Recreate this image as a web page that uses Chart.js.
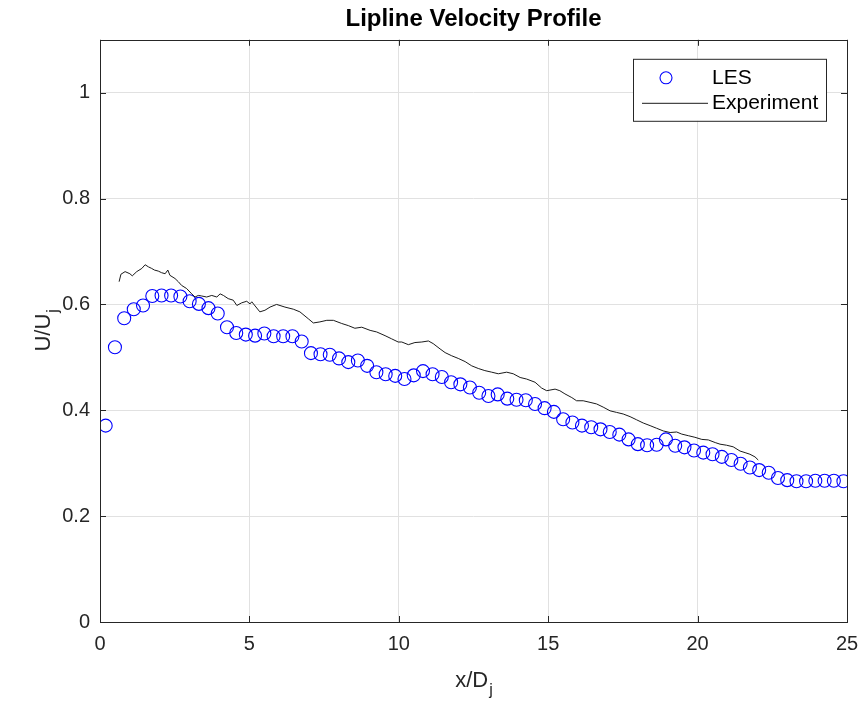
<!DOCTYPE html>
<html lang="en">
  <head>
    <meta charset="UTF-8" />
    <title>Lipline Velocity Profile</title>
    <script src="https://cdn.jsdelivr.net/npm/chart.js"></script>
    <style>
      html,
      body {
        margin: 0;
        background: #fff;
        font-family: "Liberation Sans", Arial, sans-serif;
      }
    </style>
  </head>
  <body>
    <canvas id="chart" width="861" height="708"></canvas>
  </body>
  <script>
    // LES samples (x/Dj, U/Uj)
    const lesX = [
      0.19, 0.5, 0.81, 1.13, 1.44, 1.75, 2.06, 2.38, 2.69, 3.0, 3.31, 3.63,
      3.94, 4.25, 4.56, 4.88, 5.19, 5.5, 5.81, 6.13, 6.44, 6.75, 7.06, 7.38,
      7.69, 8.0, 8.31, 8.63, 8.94, 9.25, 9.56, 9.88, 10.19, 10.5, 10.81,
      11.13, 11.44, 11.75, 12.06, 12.38, 12.69, 13.0, 13.31, 13.63, 13.94,
      14.25, 14.56, 14.88, 15.19, 15.5, 15.81, 16.13, 16.44, 16.75, 17.06,
      17.38, 17.69, 18.0, 18.31, 18.63, 18.94, 19.25, 19.56, 19.88, 20.19,
      20.5, 20.81, 21.13, 21.44, 21.75, 22.06, 22.38, 22.69, 23.0, 23.31,
      23.63, 23.94, 24.25, 24.56, 24.88,
    ];
    const lesU = [
      0.371, 0.519, 0.574, 0.591, 0.598, 0.616, 0.617, 0.617, 0.615, 0.606,
      0.601, 0.593, 0.583, 0.557, 0.546, 0.543, 0.541, 0.545, 0.54, 0.54,
      0.54, 0.53, 0.508, 0.506, 0.505, 0.498, 0.491, 0.494, 0.484, 0.472,
      0.468, 0.465, 0.459, 0.466, 0.474, 0.468, 0.463, 0.453, 0.449, 0.443,
      0.433, 0.427, 0.43, 0.422, 0.42, 0.419, 0.412, 0.404, 0.397, 0.383,
      0.377, 0.371, 0.368, 0.364, 0.359, 0.354, 0.345, 0.336, 0.334, 0.335,
      0.345, 0.333, 0.33, 0.324, 0.32, 0.317, 0.312, 0.306, 0.299, 0.292,
      0.287, 0.282, 0.272, 0.268, 0.266, 0.266, 0.267, 0.267, 0.267, 0.266,
    ];

    // Experiment trace
    const expX = [
      0.64, 0.7, 0.84, 1.0, 1.08, 1.23, 1.4, 1.51, 1.62, 1.73, 1.82, 1.95,
      2.06, 2.18, 2.27, 2.34, 2.51, 2.62, 2.73, 2.9, 3.07, 3.18, 3.29, 3.4,
      3.57, 3.74, 3.91, 4.02, 4.13, 4.29, 4.46, 4.58, 4.74, 4.91, 5.02, 5.08,
      5.35, 5.52, 5.69, 5.91, 6.19, 6.47, 6.69, 6.97, 7.14, 7.36, 7.59, 7.81,
      8.09, 8.31, 8.53, 8.76, 9.04, 9.26, 9.54, 9.76, 9.98, 10.1, 10.32,
      10.54, 10.77, 10.99, 11.15, 11.38, 11.55, 11.77, 11.99, 12.22, 12.44,
      12.66, 12.88, 13.11, 13.33, 13.61, 13.83, 14.06, 14.28, 14.56, 14.78,
      14.95, 15.23, 15.39, 15.56, 15.79, 15.95, 16.17, 16.4, 16.62, 16.84,
      17.07, 17.29, 17.51, 17.74, 17.96, 18.18, 18.41, 18.63, 18.85, 19.08,
      19.3, 19.47, 19.69, 19.91, 20.14, 20.36, 20.59, 20.75, 20.97, 21.19,
      21.42, 21.59, 21.75, 21.92, 22.03,
    ];
    const expU = [
      0.643, 0.657, 0.662, 0.658, 0.654, 0.662, 0.668, 0.675, 0.671, 0.668,
      0.665, 0.663, 0.66, 0.658, 0.665, 0.655, 0.649, 0.643, 0.636, 0.63,
      0.62, 0.614, 0.617, 0.616, 0.614, 0.617, 0.614, 0.62, 0.617, 0.611,
      0.608, 0.598, 0.603, 0.606, 0.601, 0.605, 0.586, 0.589, 0.595, 0.6,
      0.595, 0.591, 0.586, 0.573, 0.565, 0.567, 0.57, 0.57, 0.564, 0.56,
      0.555, 0.557, 0.551, 0.548, 0.541, 0.535, 0.529, 0.529, 0.524, 0.528,
      0.529, 0.531, 0.526, 0.516, 0.509, 0.503, 0.498, 0.492, 0.484, 0.479,
      0.475, 0.472, 0.469, 0.472, 0.469, 0.462, 0.459, 0.453, 0.442, 0.437,
      0.44, 0.437, 0.431, 0.424, 0.418, 0.418, 0.415, 0.412, 0.406, 0.399,
      0.396, 0.393, 0.388, 0.382, 0.376, 0.371, 0.366, 0.361, 0.358, 0.359,
      0.355, 0.352, 0.349, 0.345, 0.344, 0.339, 0.336, 0.334, 0.331, 0.323,
      0.32, 0.317, 0.312, 0.306,
    ];

    const xTicks = [0, 5, 10, 15, 20, 25];
    const yTicks = [0, 0.2, 0.4, 0.6, 0.8, 1];

    const axisColor = "#262626";
    const fontFamily = '"Liberation Sans", Arial, sans-serif';

    const toPoints = (xs, ys) => xs.map((x, i) => ({ x: x, y: ys[i] }));

    // box round the axes with inward ticks on all sides
    const framePlugin = {
      id: "frame",
      afterDatasetsDraw(chart) {
        const { ctx, chartArea: a, scales } = chart;
        ctx.save();
        ctx.strokeStyle = axisColor;
        ctx.lineWidth = 1;
        ctx.beginPath();
        xTicks.forEach((t) => {
          const px = Math.round(scales.x.getPixelForValue(t)) + 0.5;
          ctx.moveTo(px, a.bottom);
          ctx.lineTo(px, a.bottom - 6);
          ctx.moveTo(px, a.top);
          ctx.lineTo(px, a.top + 6);
        });
        yTicks.forEach((t) => {
          const py = Math.round(scales.y.getPixelForValue(t)) + 0.5;
          ctx.moveTo(a.left, py);
          ctx.lineTo(a.left + 6, py);
          ctx.moveTo(a.right, py);
          ctx.lineTo(a.right - 6, py);
        });
        ctx.stroke();
        ctx.strokeRect(
          Math.round(a.left) + 0.5,
          Math.round(a.top) + 0.5,
          Math.round(a.right - a.left),
          Math.round(a.bottom - a.top)
        );
        ctx.restore();
      },
      afterDraw(chart) {
        const { ctx, chartArea: a } = chart;
        ctx.save();
        ctx.fillStyle = axisColor;
        ctx.textBaseline = "alphabetic";

        // axis label with a subscript j
        const drawSub = (main, sub, size) => {
          const subSize = Math.round(size * 0.72);
          ctx.font = `${size}px ${fontFamily}`;
          const w1 = ctx.measureText(main).width;
          ctx.font = `${subSize}px ${fontFamily}`;
          const w2 = ctx.measureText(sub).width;
          const start = -(w1 + w2) / 2;
          ctx.font = `${size}px ${fontFamily}`;
          ctx.fillText(main, start, 0);
          ctx.font = `${subSize}px ${fontFamily}`;
          ctx.fillText(sub, start + w1 + 1, size * 0.38);
        };
        ctx.save();
        ctx.translate((a.left + a.right) / 2, 687);
        drawSub("x/D", "j", 22);
        ctx.restore();

        ctx.save();
        ctx.translate(50, (a.top + a.bottom) / 2);
        ctx.rotate(-Math.PI / 2);
        drawSub("U/U", "j", 22);
        ctx.restore();

        // legend
        const bx = a.right - 214;
        const by = a.top + 19;
        const bw = 193;
        const bh = 62;
        ctx.fillStyle = "#fff";
        ctx.fillRect(bx, by, bw, bh);
        ctx.strokeStyle = axisColor;
        ctx.lineWidth = 1;
        ctx.strokeRect(bx + 0.5, by + 0.5, bw, bh);

        const les = chart.data.datasets[0];
        const exp = chart.data.datasets[1];
        ctx.beginPath();
        ctx.arc(bx + 33, by + 19, 6, 0, Math.PI * 2);
        ctx.strokeStyle = les.borderColor;
        ctx.lineWidth = les.borderWidth;
        ctx.stroke();
        ctx.beginPath();
        ctx.moveTo(bx + 9, by + 44.5);
        ctx.lineTo(bx + 75, by + 44.5);
        ctx.strokeStyle = exp.borderColor;
        ctx.lineWidth = exp.borderWidth;
        ctx.stroke();

        ctx.fillStyle = "#000";
        ctx.font = `21px ${fontFamily}`;
        ctx.textBaseline = "middle";
        ctx.fillText(les.label, bx + 79, by + 19);
        ctx.fillText(exp.label, bx + 79, by + 44);
        ctx.restore();
      },
    };

    const chart = new Chart(document.getElementById("chart"), {
      type: "scatter",
      data: {
        datasets: [
          {
            label: "LES",
            data: toPoints(lesX, lesU),
            showLine: false,
            pointStyle: "circle",
            pointRadius: 6.5,
            pointBorderWidth: 1.1,
            borderWidth: 1.1,
            borderColor: "#0000ff",
            backgroundColor: "rgba(0,0,0,0)",
            order: 2,
          },
          {
            label: "Experiment",
            data: toPoints(expX, expU),
            showLine: true,
            pointRadius: 0,
            borderColor: "#1a1a1a",
            borderWidth: 1,
            tension: 0,
            order: 1,
          },
        ],
      },
      options: {
        responsive: false,
        animation: false,
        layout: { padding: { left: 0, right: 14, top: 0, bottom: 0 } },
        plugins: {
          legend: { display: false },
          tooltip: { enabled: false },
          title: {
            display: true,
            fullSize: false,
            text: "Lipline Velocity Profile",
            color: "#000",
            font: { family: fontFamily, size: 24, weight: "bold" },
            padding: { top: 5, bottom: 6 },
          },
        },
        scales: {
          x: {
            type: "linear",
            min: 0,
            max: 25,
            afterFit: (scale) => {
              scale.height = 86;
              scale.paddingLeft = 0;
              scale.paddingRight = 0;
            },
            afterBuildTicks: (scale) => {
              scale.ticks = xTicks.map((v) => ({ value: v }));
            },
            border: { display: false },
            grid: { color: "#e1e1e1", drawTicks: false },
            ticks: {
              color: axisColor,
              padding: 10,
              font: { family: fontFamily, size: 20 },
            },
          },
          y: {
            type: "linear",
            min: 0,
            max: 1.1,
            afterFit: (scale) => {
              scale.width = 100;
              scale.paddingTop = 0;
              scale.paddingBottom = 0;
            },
            afterBuildTicks: (scale) => {
              scale.ticks = yTicks.map((v) => ({ value: v }));
            },
            border: { display: false },
            grid: { color: "#e1e1e1", drawTicks: false },
            ticks: {
              color: axisColor,
              padding: 10,
              font: { family: fontFamily, size: 20 },
              callback: (v) => String(+v.toFixed(1)),
            },
          },
        },
      },
      plugins: [framePlugin],
    });
  </script>
</html>
